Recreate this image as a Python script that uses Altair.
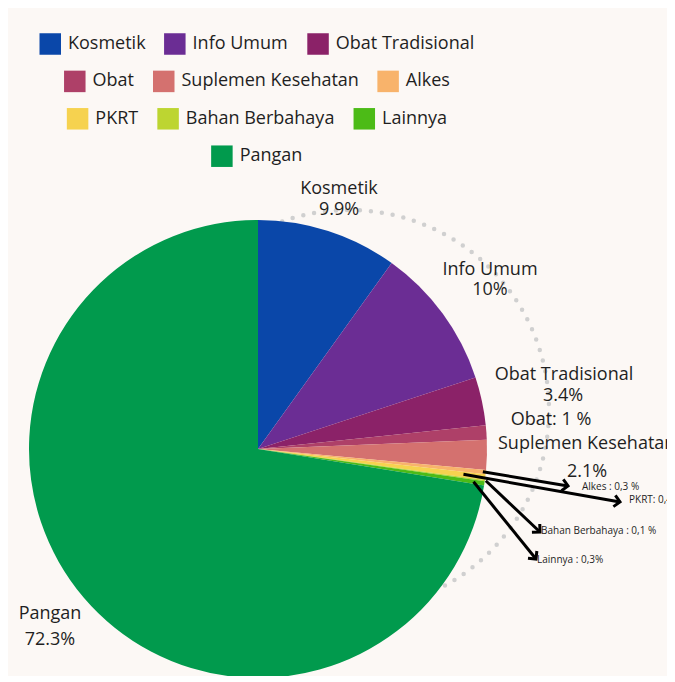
import math
import altair as alt
import pandas as pd

# ---------------- data ----------------
categories = ["Kosmetik", "Info Umum", "Obat Tradisional", "Obat", "Suplemen Kesehatan",
              "Alkes", "PKRT", "Bahan Berbahaya", "Lainnya", "Pangan"]
values = [9.9, 10.0, 3.4, 1.0, 2.1, 0.3, 0.4, 0.1, 0.3, 72.3]
colors = ["#0a47a9", "#6b2d94", "#8b2268", "#ae4068", "#d4716f",
          "#f8b36b", "#f6d24f", "#bdd531", "#4cbb17", "#019a4d"]

# label texts shown next to the pie
big_label_lines = {
    "Kosmetik": ["Kosmetik", "9.9%"],
    "Info Umum": ["Info Umum", "10%"],
    "Obat Tradisional": ["Obat Tradisional", "3.4%"],
    "Obat": ["Obat: 1 %"],
    "Suplemen Kesehatan": ["Suplemen Kesehatan", "2.1%"],
    "Pangan": ["Pangan", "72.3%"],
}
small_labels = {
    "Alkes": "Alkes : 0,3 %",
    "PKRT": "PKRT: 0,4%",
    "Bahan Berbahaya": "Bahan Berbahaya : 0,1 %",
    "Lainnya": "Lainnya : 0,3%",
}

# ---------------- layout (pixels) ----------------
W, H = 659, 668
CX, CY, R = 250, 441, 229          # pie centre / radius
RING_X, RING_Y, RING_R = 341, 402, 200
BG = "#fcf8f5"
TXT = "#1f1f1f"
FONT = "Open Sans"

# anchor of each text line: (x, baseline y, align)
big_label_pos = {
    "Kosmetik": [(331, 186, "center"), (331, 207, "center")],
    "Info Umum": [(482, 267, "center"), (482, 287, "center")],
    "Obat Tradisional": [(556, 372, "center"), (555, 393, "center")],
    "Obat": [(543, 417, "center")],
    "Suplemen Kesehatan": [(490, 441, "left"), (579, 469, "center")],
    "Pangan": [(42, 611, "center"), (42, 637, "center")],
}
small_label_pos = {
    "Alkes": (574, 482), "PKRT": (621, 495),
    "Bahan Berbahaya": (533, 526), "Lainnya": (529, 555),
}
arrow_start_r = {"Alkes": 226, "PKRT": 207, "Bahan Berbahaya": 230, "Lainnya": 218}
arrow_end = {"Alkes": (560, 478), "PKRT": (612, 494),
             "Bahan Berbahaya": (532, 524), "Lainnya": (528, 551)}

color_scale = alt.Scale(domain=categories, range=colors)

# ---------------- pie ----------------
df = pd.DataFrame({"category": categories, "value": values, "idx": range(len(categories))})

ring = alt.Chart(pd.DataFrame({"a": [0]})).mark_arc(
    theta=0, theta2=2 * math.pi, outerRadius=RING_R, innerRadius=0,
    filled=False, stroke="#d0d0d0", strokeWidth=4.5, strokeDash=[0, 11], strokeCap="round"
).encode(x=alt.value(RING_X), y=alt.value(RING_Y))

pie = alt.Chart(df).mark_arc(outerRadius=R).encode(
    theta=alt.Theta("value:Q", stack=True),
    color=alt.Color("category:N", scale=color_scale, legend=None),
    order=alt.Order("idx:Q"),
    x=alt.value(CX), y=alt.value(CY),
)

# ---------------- labels ----------------
rows = []
for cat, lines in big_label_lines.items():
    for line, (x, y, al) in zip(lines, big_label_pos[cat]):
        rows.append({"t": line, "x": x, "y": y, "al": al})
lab_df = pd.DataFrame(rows)
lab_center = alt.Chart(lab_df[lab_df.al == "center"]).mark_text(
    font=FONT, fontSize=18, color=TXT, align="center", baseline="alphabetic"
).encode(x=alt.X("x:Q", scale=None), y=alt.Y("y:Q", scale=None), text="t:N")
lab_left = alt.Chart(lab_df[lab_df.al == "left"]).mark_text(
    font=FONT, fontSize=18, color=TXT, align="left", baseline="alphabetic"
).encode(x=alt.X("x:Q", scale=None), y=alt.Y("y:Q", scale=None), text="t:N")

small_df = pd.DataFrame([{"t": small_labels[c], "x": small_label_pos[c][0], "y": small_label_pos[c][1]}
                         for c in small_labels])
lab_small = alt.Chart(small_df).mark_text(
    font=FONT, fontSize=10, color=TXT, align="left", baseline="alphabetic"
).encode(x=alt.X("x:Q", scale=None), y=alt.Y("y:Q", scale=None), text="t:N")

# ---------------- arrows ----------------
total = sum(values)
cum = 0.0
mids = {}
for c, v in zip(categories, values):
    mids[c] = (cum + v / 2) / total * 2 * math.pi
    cum += v
arows = []
for c in small_labels:
    a = mids[c]
    r = arrow_start_r[c]
    x1, y1 = CX + r * math.sin(a), CY - r * math.cos(a)
    x2, y2 = arrow_end[c]
    ang = math.degrees(math.atan2(y2 - y1, x2 - x1)) % 360
    arows.append({"x": x1, "y": y1, "x2": x2, "y2": y2, "ang": ang})
arr_df = pd.DataFrame(arows)
arr_lines = alt.Chart(arr_df).mark_rule(color="black", strokeWidth=3).encode(
    x=alt.X("x:Q", scale=None), y=alt.Y("y:Q", scale=None),
    x2=alt.X2("x2:Q"), y2=alt.Y2("y2:Q"))
arr_heads = alt.Chart(arr_df).mark_point(
    shape="M-1,-1L0,0L-1,1", filled=False, size=130, strokeWidth=3,
    color="black", opacity=1, strokeJoin="miter"
).encode(x=alt.X("x2:Q", scale=None), y=alt.Y("y2:Q", scale=None),
         angle=alt.Angle("ang:Q", scale=None))

# ---------------- legend (centred rows) ----------------
CW = {" ": .26, "%": .86, ",": .245, ".": .266, ":": .266, "A": .633, "B": .648, "I": .29,
      "K": .579, "L": .524, "O": .781, "P": .624, "R": .63, "S": .549, "T": .556, "U": .737,
      "a": .556, "b": .613, "d": .613, "e": .561, "f": .339, "g": .548, "h": .614, "i": .253,
      "k": .525, "l": .253, "m": .93, "n": .614, "o": .604, "p": .613, "r": .408, "s": .477,
      "t": .353, "u": .614, "y": .501}


def text_w(s, fs):
    return sum(CW.get(ch, .57) for ch in s) * fs


LEG_FS, SW, GAP_T, GAP_I = 18, 21.5, 7, 19
LEG_CX, LEG_Y0, LEG_DY = 249, 36, 37.4
leg_rows = [categories[i:i + 3] for i in range(0, len(categories), 3)]
leg = []
for ri, row in enumerate(leg_rows):
    widths = [text_w(c, LEG_FS) for c in row]
    total_w = sum(SW + GAP_T + w for w in widths) + GAP_I * (len(row) - 1)
    x = LEG_CX - total_w / 2
    y = LEG_Y0 + ri * LEG_DY
    for c, w in zip(row, widths):
        leg.append({"category": c, "sx": x + SW / 2, "tx": x + SW + GAP_T, "y": y})
        x += SW + GAP_T + w + GAP_I
leg_df = pd.DataFrame(leg)
leg_sw = alt.Chart(leg_df).mark_square(size=SW * SW, opacity=1).encode(
    x=alt.X("sx:Q", scale=None), y=alt.Y("y:Q", scale=None),
    color=alt.Color("category:N", scale=color_scale, legend=None))
leg_tx = alt.Chart(leg_df).mark_text(
    font=FONT, fontSize=LEG_FS, color=TXT, align="left", baseline="middle"
).encode(x=alt.X("tx:Q", scale=None), y=alt.Y("y:Q", scale=None), text="category:N")

chart = alt.layer(ring, pie, arr_lines, arr_heads, lab_center, lab_left, lab_small, leg_sw, leg_tx).properties(
    width=W, height=H, background=BG, padding=0,
    autosize=alt.AutoSizeParams(type="none"),
).configure_view(stroke=None)

chart.save("out.html", embed_options={"renderer": "svg", "actions": False})
